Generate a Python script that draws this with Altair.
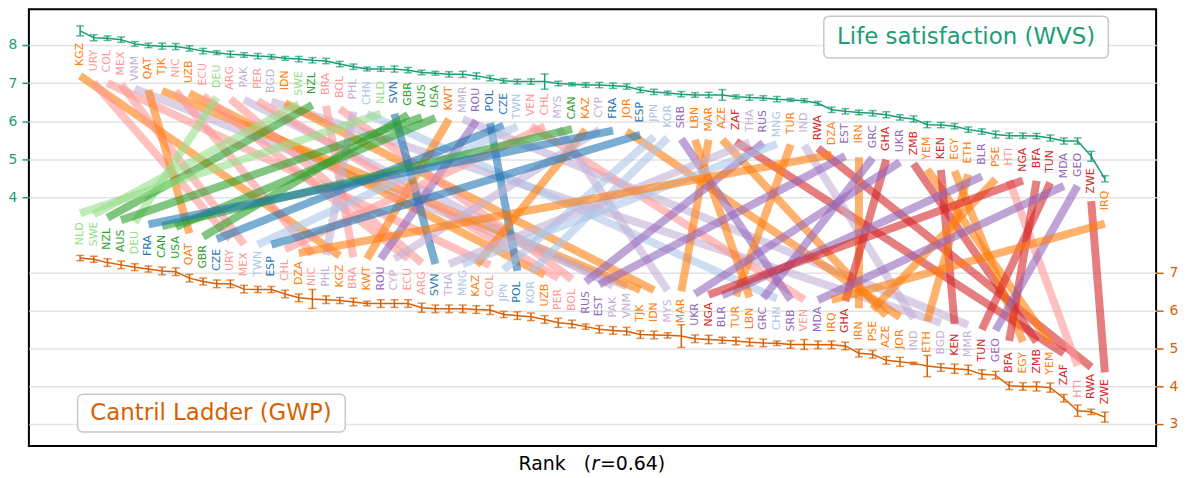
import altair as alt
import pandas as pd

# ---------------- data ----------------
wvs_countries = ["KGZ","URY","COL","MEX","VNM","QAT","TJK","NIC","UZB","ECU","DEU","ARG","PAK","PER","BGD","IDN",
                 "SWE","NZL","BRA","BOL","PHL","CHN","NLD","SVN","GBR","AUS","USA","KWT","MMR","ROU","POL","CZE",
                 "TWN","VEN","CHL","MYS","CAN","KAZ","CYP","FRA","JOR","ESP","JPN","KOR","SRB","LBN","MAR","AZE",
                 "ZAF","THA","RUS","MNG","TUR","IND","RWA","DZA","EST","IRN","GRC","GHA","UKR","ZMB","YEM","KEN",
                 "EGY","ETH","BLR","PSE","HTI","NGA","BFA","TUN","MDA","GEO","ZWE","IRQ"]
wvs_mean = [8.37,8.19,8.18,8.14,8.03,7.99,7.97,7.96,7.91,7.84,7.80,7.76,7.74,7.71,7.69,7.65,
            7.63,7.60,7.58,7.50,7.43,7.37,7.37,7.37,7.34,7.28,7.26,7.23,7.23,7.19,7.13,7.06,
            7.04,7.04,7.04,6.99,6.97,6.95,6.95,6.93,6.91,6.82,6.77,6.74,6.71,6.69,6.69,6.69,
            6.64,6.62,6.61,6.58,6.56,6.54,6.47,6.30,6.26,6.23,6.21,6.17,6.10,6.06,5.91,5.90,
            5.87,5.78,5.73,5.65,5.62,5.62,5.61,5.56,5.48,5.48,5.08,4.49]
wvs_err = [0.13,0.08,0.06,0.07,0.06,0.06,0.08,0.08,0.07,0.07,0.05,0.08,0.06,0.07,0.06,0.05,
           0.07,0.07,0.07,0.07,0.07,0.05,0.06,0.08,0.07,0.06,0.05,0.07,0.08,0.08,0.07,0.06,
           0.06,0.07,0.20,0.06,0.04,0.06,0.07,0.07,0.07,0.07,0.07,0.05,0.07,0.06,0.07,0.14,
           0.05,0.07,0.06,0.07,0.04,0.05,0.05,0.07,0.07,0.06,0.07,0.08,0.07,0.08,0.08,0.07,
           0.07,0.07,0.07,0.09,0.07,0.07,0.07,0.08,0.08,0.08,0.13,0.08]

gwp_countries = ["NLD","SWE","NZL","AUS","DEU","FRA","CAN","USA","QAT","GBR","CZE","URY","MEX","TWN","ESP","CHL",
                 "DZA","NIC","PHL","KGZ","BRA","KWT","ROU","CYP","ECU","ARG","SVN","THA","MNG","KAZ","COL","JPN",
                 "POL","KOR","UZB","PER","BOL","RUS","EST","PAK","VNM","TJK","IDN","MYS","MAR","UKR","NGA","BLR",
                 "TUR","LBN","GRC","CHN","SRB","VEN","MDA","IRQ","GHA","IRN","PSE","AZE","JOR","IND","ETH","BGD",
                 "KEN","MMR","TUN","GEO","BFA","EGY","ZMB","YEM","ZAF","HTI","RWA","ZWE"]
gwp_mean = [7.38,7.35,7.26,7.20,7.14,7.09,7.04,7.02,6.85,6.76,6.70,6.70,6.56,6.55,6.55,6.43,
            6.33,6.30,6.28,6.26,6.22,6.18,6.18,6.18,6.18,6.07,6.04,6.04,6.04,6.02,6.01,5.89,
            5.86,5.83,5.76,5.67,5.64,5.57,5.50,5.47,5.45,5.36,5.35,5.34,5.32,5.25,5.23,5.21,
            5.19,5.16,5.14,5.13,5.10,5.10,5.09,5.09,5.06,4.87,4.84,4.68,4.64,4.60,4.53,4.49,
            4.46,4.43,4.31,4.29,4.01,3.99,3.99,3.96,3.68,3.35,3.32,3.18]
gwp_err = [0.07,0.08,0.10,0.10,0.09,0.08,0.10,0.10,0.10,0.09,0.10,0.10,0.10,0.08,0.08,0.10,
           0.10,0.25,0.10,0.08,0.10,0.06,0.10,0.10,0.10,0.12,0.10,0.10,0.10,0.10,0.12,0.08,
           0.10,0.10,0.10,0.12,0.10,0.07,0.10,0.10,0.10,0.10,0.10,0.07,0.30,0.10,0.11,0.08,
           0.10,0.10,0.10,0.06,0.10,0.13,0.10,0.10,0.10,0.10,0.10,0.10,0.12,0.03,0.28,0.10,
           0.12,0.12,0.12,0.10,0.10,0.10,0.12,0.12,0.10,0.15,0.07,0.13]

cultural_zones = {
    "Protestant Europe": ["NLD","SWE","DEU"],
    "English-speaking": ["NZL","AUS","USA","GBR","CAN"],
    "Catholic Europe": ["SVN","POL","CZE","FRA","ESP"],
    "Confucian": ["TWN","JPN","KOR","MNG","CHN"],
    "Latin America": ["URY","COL","MEX","NIC","ECU","ARG","PER","BRA","BOL","VEN","CHL","HTI"],
    "West & South Asia": ["VNM","PAK","BGD","PHL","MMR","MYS","CYP","THA","IND"],
    "Orthodox Europe": ["ROU","SRB","RUS","EST","GRC","UKR","BLR","MDA","GEO"],
    "African-Islamic (Islamic)": ["KGZ","QAT","TJK","UZB","IDN","KWT","KAZ","JOR","LBN","MAR","AZE","TUR",
                                  "DZA","IRN","YEM","EGY","ETH","PSE","IRQ"],
    "African-Islamic (Africa)": ["ZAF","RWA","GHA","ZMB","KEN","NGA","BFA","TUN","ZWE"],
}
zone_colors = {
    "Protestant Europe": "#98df8a",
    "English-speaking": "#2ca02c",
    "Catholic Europe": "#1f77b4",
    "Confucian": "#aec7e8",
    "Latin America": "#ff9896",
    "West & South Asia": "#c5b0d5",
    "Orthodox Europe": "#9467bd",
    "African-Islamic (Islamic)": "#ff7f0e",
    "African-Islamic (Africa)": "#d62728",
}

title_parts = ["Rank\u00a0\u00a0\u00a0(", "r", "=0.64)"]

GREEN = "#1b9e77"
ORANGE = "#d95f02"
TOP_DOM = [-2.52, 8.94]
BOT_DOM = [2.42, 13.95]
X_DOM = [-2.75, 79.75]

# ---------------- table ----------------
w = pd.DataFrame({"country": wvs_countries, "wvs": wvs_mean, "wvs_err": wvs_err})
w["rank_w"] = range(1, len(w) + 1)
g = pd.DataFrame({"country": gwp_countries, "gwp": gwp_mean, "gwp_err": gwp_err})
g["rank_g"] = range(1, len(g) + 1)
df = w.merge(g, on="country")
zone_of = {c: z for z, cs in cultural_zones.items() for c in cs}
df["color"] = df["country"].map(lambda c: zone_colors[zone_of[c]])
df["wvs_lo"] = df["wvs"] - df["wvs_err"]
df["wvs_hi"] = df["wvs"] + df["wvs_err"]
df["gwp_lo"] = df["gwp"] - df["gwp_err"]
df["gwp_hi"] = df["gwp"] + df["gwp_err"]
# express GWP value in the WVS scale units (both axes share the same pixel height)
ratio = (TOP_DOM[1] - TOP_DOM[0]) / (BOT_DOM[1] - BOT_DOM[0])
df["gwp_in_top"] = TOP_DOM[1] - (BOT_DOM[1] - df["gwp"]) * ratio

xscale = alt.Scale(domain=X_DOM, nice=False, zero=False)
xaxis = alt.Axis(labels=False, ticks=False, domain=False, grid=False, title=None)


def X(field):
    return alt.X(f"{field}:Q", scale=xscale, axis=xaxis)


def Ytop(field):
    return alt.Y(f"{field}:Q", scale=alt.Scale(domain=TOP_DOM, nice=False, zero=False),
                 axis=alt.Axis(values=[4, 5, 6, 7, 8], orient="left", title=None, format="d",
                               labelColor=GREEN, tickColor=GREEN, tickSize=7, tickWidth=1.5,
                               labelFontSize=14, labelPadding=5, domain=False,
                               grid=True, gridColor="#e3e3e3", gridWidth=1.5,
                               minExtent=21, maxExtent=21))


def Ybot(field):
    return alt.Y(f"{field}:Q", scale=alt.Scale(domain=BOT_DOM, nice=False, zero=False),
                 axis=alt.Axis(values=[3, 4, 5, 6, 7], orient="right", title=None, format="d",
                               labelColor=ORANGE, tickColor=ORANGE, tickSize=7, tickWidth=1.5,
                               labelFontSize=14, labelPadding=6, domain=False,
                               grid=True, gridColor="#e3e3e3", gridWidth=1.5,
                               minExtent=22, maxExtent=22))


base = alt.Chart(df)
color_id = alt.Color("color:N", scale=None)

links = base.mark_rule(strokeWidth=8, opacity=0.6, strokeCap="butt", yOffset=45, y2Offset=-45).encode(
    x=X("rank_w"), x2="rank_g", y=Ytop("wvs"), y2="gwp_in_top", color=color_id)

top_line = base.mark_line(color=GREEN, strokeWidth=1.5).encode(x=X("rank_w"), y=Ytop("wvs"))
top_err = base.mark_rule(color=GREEN, strokeWidth=1.5).encode(x=X("rank_w"), y=Ytop("wvs_lo"), y2="wvs_hi")
top_cap_lo = base.mark_tick(color=GREEN, orient="horizontal", size=8, thickness=1.5).encode(
    x=X("rank_w"), y=Ytop("wvs_lo"))
top_cap_hi = base.mark_tick(color=GREEN, orient="horizontal", size=8, thickness=1.5).encode(
    x=X("rank_w"), y=Ytop("wvs_hi"))
top_labels = base.mark_text(angle=270, align="right", baseline="middle", fontSize=11, yOffset=12).encode(
    x=X("rank_w"), y=Ytop("wvs"), text="country:N", color=color_id)

bot_line = base.mark_line(color=ORANGE, strokeWidth=1.5).encode(x=X("rank_g"), y=Ybot("gwp"))
bot_err = base.mark_rule(color=ORANGE, strokeWidth=1.5).encode(x=X("rank_g"), y=Ybot("gwp_lo"), y2="gwp_hi")
bot_cap_lo = base.mark_tick(color=ORANGE, orient="horizontal", size=8, thickness=1.5).encode(
    x=X("rank_g"), y=Ybot("gwp_lo"))
bot_cap_hi = base.mark_tick(color=ORANGE, orient="horizontal", size=8, thickness=1.5).encode(
    x=X("rank_g"), y=Ybot("gwp_hi"))
bot_labels = base.mark_text(angle=270, align="left", baseline="middle", fontSize=11, yOffset=-13).encode(
    x=X("rank_g"), y=Ybot("gwp"), text="country:N", color=color_id)

# legend-like annotation boxes
one = pd.DataFrame({"t": ["Life satisfaction (WVS)"]})
two = pd.DataFrame({"t": ["Cantril Ladder (GWP)"]})
box_top = alt.Chart(one).mark_rect(fill="white", fillOpacity=0.8, stroke="#c8c8c8", strokeWidth=1.5,
                                   cornerRadius=5).encode(
    x=alt.value(799), x2=alt.value(1085), y=alt.value(7), y2=alt.value(49))
txt_top = alt.Chart(one).mark_text(fontSize=23, color=GREEN, align="center", baseline="middle").encode(
    x=alt.value(942), y=alt.value(28), text="t:N")
box_bot = alt.Chart(two).mark_rect(fill="white", fillOpacity=0.8, stroke="#c8c8c8", strokeWidth=1.5,
                                   cornerRadius=5).encode(
    x=alt.value(49), x2=alt.value(318), y=alt.value(387), y2=alt.value(425))
txt_bot = alt.Chart(two).mark_text(fontSize=23, color=ORANGE, align="center", baseline="middle").encode(
    x=alt.value(183), y=alt.value(406), text="t:N")

# x-axis title with italic r
t1 = alt.Chart(pd.DataFrame({"t": [title_parts[0]]})).mark_text(
    fontSize=19, color="black", align="right", baseline="middle").encode(
    x=alt.value(565), y=alt.value(457), text="t:N")
t2 = alt.Chart(pd.DataFrame({"t": [title_parts[1]]})).mark_text(
    fontSize=19, color="black", align="left", baseline="middle", fontStyle="italic").encode(
    x=alt.value(565.5), y=alt.value(457), text="t:N")
t3 = alt.Chart(pd.DataFrame({"t": [title_parts[2]]})).mark_text(
    fontSize=19, color="black", align="left", baseline="middle").encode(
    x=alt.value(574), y=alt.value(457), text="t:N")

top_layer = alt.layer(links, top_line, top_err, top_cap_lo, top_cap_hi, top_labels)
bot_layer = alt.layer(bot_line, bot_err, bot_cap_lo, bot_cap_hi, bot_labels)

chart = alt.layer(top_layer, bot_layer, box_top, txt_top, box_bot, txt_bot, t1, t2, t3).resolve_scale(
    y="independent").properties(
    width=1133, height=439, padding={"left": 0, "top": 0, "right": 0, "bottom": 0}
).configure(font="DejaVu Sans").configure_view(stroke="black", strokeWidth=2)

chart.save("out.html", embed_options={"renderer": "svg", "actions": False})
